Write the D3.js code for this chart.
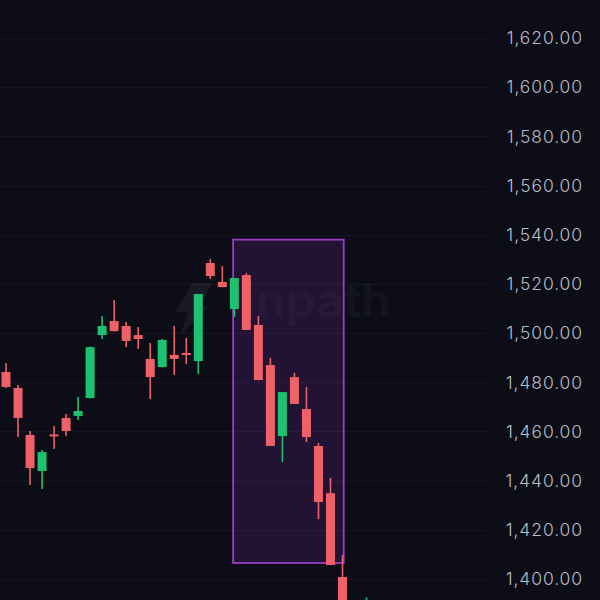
<!DOCTYPE html>
<html>
<head>
<meta charset="utf-8">
<script src="https://cdn.jsdelivr.net/npm/d3@7"></script>
<style>
  html, body { margin: 0; padding: 0; background: #0c0d16; overflow: hidden; }
  svg { display: block; }
</style>
</head>
<body>
<svg id="chart" width="600" height="600"></svg>
<script>
// ---- Data ----
const opens  = [1484.2,1477.7,1458.6,1443.9,1458.8,1465.5,1466.3,1473.6,1499.2,1504.9,1502.9,1499.2,1489.5,1486.2,1491.1,1491.9,1488.6,1528.5,1520.8,1509.8,1523.6,1503.3,1487.0,1458.1,1482.1,1469.1,1454.1,1434.9,1400.8,1387.0,1378.0];
const highs  = [1487.8,1478.9,1460.2,1452.5,1462.2,1467.1,1474.0,1494.5,1506.9,1513.5,1504.5,1502.5,1496.0,1497.6,1502.9,1498.0,1515.9,1530.1,1527.3,1522.4,1524.4,1506.9,1489.9,1476.0,1483.8,1478.1,1455.3,1441.1,1409.8,1389.0,1392.5];
const lows   = [1477.7,1457.7,1438.2,1436.6,1452.9,1458.1,1464.7,1473.4,1497.6,1500.6,1494.3,1493.5,1473.2,1486.0,1483.0,1487.4,1483.4,1522.0,1518.7,1506.5,1501.3,1480.9,1454.1,1447.6,1471.2,1455.7,1424.4,1405.7,1382.0,1376.0,1374.0];
const closes = [1478.1,1465.5,1445.1,1451.6,1458.2,1460.2,1468.3,1494.3,1502.9,1500.8,1496.8,1497.6,1482.1,1497.2,1489.5,1491.1,1515.9,1523.2,1518.7,1522.4,1501.3,1480.9,1454.1,1476.0,1471.2,1457.7,1431.3,1405.7,1386.0,1380.0,1388.0];
const yTicks = [1400,1420,1440,1460,1480,1500,1520,1540,1560,1580,1600,1620];
// highlighted box: candle-index span and price span
const boxIndex = [18.9, 28.1];
const boxPrice = [1406.5, 1538.0];
const watermark = "inpath";

// ---- Scales ----
const svg = d3.select("#chart");
const x = d3.scaleLinear().domain([0, 28]).range([6, 342.5]);
const y = d3.scaleLinear().domain([1400, 1620]).range([579, 38]);

const bg = "#0c0d16", up = "#1dc170", down = "#ef6169";

svg.append("rect").attr("width", 600).attr("height", 600).attr("fill", bg);

// gridlines
svg.append("g").selectAll("line").data(yTicks).join("line")
  .attr("x1", 0).attr("x2", 487)
  .attr("y1", d => Math.round(y(d)) + 0.5).attr("y2", d => Math.round(y(d)) + 0.5)
  .attr("stroke", "#151822").attr("stroke-width", 1);

// watermark
const wm = svg.append("g").attr("fill", "#ffffff").attr("fill-opacity", 0.055);
wm.append("path")
  .attr("d", "M192 283 L212 283 L200 306 L209 306 L180 336 L188 312 L176 312 Z");
wm.append("text")
  .attr("x", 243).attr("y", 317)
  .attr("font-family", "Inter, 'Open Sans', sans-serif")
  .attr("font-weight", 600).attr("font-size", 46)
  .attr("textLength", 148).attr("lengthAdjust", "spacingAndGlyphs")
  .text(watermark);

// highlight box
svg.append("rect")
  .attr("x", x(boxIndex[0])).attr("y", y(boxPrice[1]))
  .attr("width", x(boxIndex[1]) - x(boxIndex[0]))
  .attr("height", y(boxPrice[0]) - y(boxPrice[1]))
  .attr("fill", "#7d2fae").attr("fill-opacity", 0.2)
  .attr("stroke", "#9a3cc8").attr("stroke-width", 1.8);

// candles
const idx = d3.range(opens.length);
const bodyW = 9;
const g = svg.append("g");
g.selectAll("line.wick").data(idx).join("line")
  .attr("class", "wick")
  .attr("x1", i => x(i)).attr("x2", i => x(i))
  .attr("y1", i => y(highs[i])).attr("y2", i => y(lows[i]))
  .attr("stroke", i => closes[i] >= opens[i] ? up : down)
  .attr("stroke-width", 1.6);
g.selectAll("rect.body").data(idx).join("rect")
  .attr("class", "body")
  .attr("x", i => x(i) - bodyW / 2)
  .attr("width", bodyW)
  .attr("y", i => y(Math.max(opens[i], closes[i])))
  .attr("height", i => Math.max(2, Math.abs(y(opens[i]) - y(closes[i]))))
  .attr("fill", i => closes[i] >= opens[i] ? up : down);

// price labels
svg.append("g").selectAll("text").data(yTicks).join("text")
  .attr("x", 583).attr("y", d => y(d))
  .attr("dy", "0.36em")
  .attr("text-anchor", "end")
  .attr("font-family", "Inter, Roboto, sans-serif")
  .attr("font-size", 17.5)
  .attr("font-weight", 300)
  .attr("letter-spacing", 0.9)
  .attr("fill", "#b8bcc6")
  .text(d => d3.format(",.2f")(d));
</script>
</body>
</html>
